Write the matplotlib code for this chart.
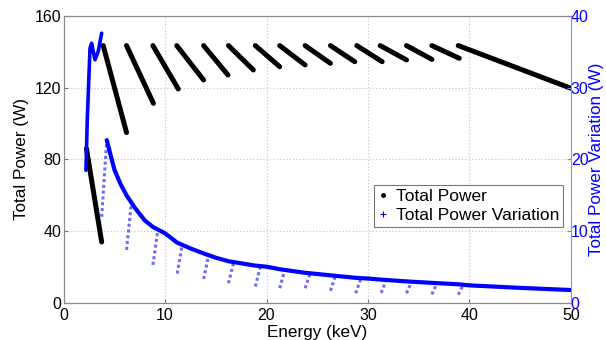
import matplotlib
matplotlib.use("Agg")
import matplotlib.pyplot as plt
from matplotlib.lines import Line2D

plt.rcParams['font.family'] = ['Liberation Sans', 'DejaVu Sans']

# ---------------- data ----------------
# Total Power (left axis): piecewise segments between absorption-edge steps
tp_start_x = [2.25, 3.9, 6.2, 8.8, 11.15, 13.8, 16.25, 18.9, 21.3, 23.8, 26.3, 28.9, 31.2, 33.8, 36.3, 38.9]
tp_end_x   = [3.75, 6.2, 8.85, 11.3, 13.8, 16.2, 18.7, 21.3, 23.8, 26.3, 28.7, 31.4, 33.8, 36.3, 39.0, 50.0]
tp_start_y = [86, 143.5, 143.5, 143.5, 143.5, 143.5, 143.5, 143.5, 143.5, 143.5, 143.5, 143.5, 143.5, 143.5, 143.5, 143.5]
tp_end_y   = [34, 95, 111.3, 119.3, 124.3, 127.1, 129.9, 131.7, 132.7, 133.6, 134.5, 134.5, 135.5, 135.8, 136.4, 119.7]

# Total Power Variation (right axis)
tpv_low_x = [2.2, 2.33, 2.6, 2.76, 3.09, 3.4, 3.75]
tpv_low_y = [18.5, 25.5, 35.5, 36.2, 33.9, 35.0, 37.6]
tpv_x = [4.25, 5.0, 5.6, 6.2, 7.0, 8.0, 8.8, 10.0, 11.2, 12.5, 13.8, 15.0, 16.3,
         18.9, 20.0, 21.3, 23.8, 26.3, 28.8, 30.0, 31.3, 33.8, 36.3, 38.9, 40.0, 45.0, 50.0]
tpv_y = [22.7, 18.6, 16.6, 15.0, 13.3, 11.5, 10.6, 9.7, 8.4, 7.6, 6.9, 6.3, 5.8,
         5.2, 5.05, 4.7, 4.2, 3.85, 3.5, 3.4, 3.25, 3.0, 2.8, 2.6, 2.45, 2.1, 1.8]
dip_x      = [3.75, 6.2, 8.8, 11.2, 13.8, 16.25, 18.9, 21.3, 23.8, 26.3, 28.8, 31.3, 33.8, 36.3, 38.9]
dip_bottom = [12.0, 7.4, 5.3, 4.1, 3.35, 2.75, 2.3, 2.05, 2.05, 1.7, 1.35, 1.4, 1.35, 1.2, 1.15]
dip_top    = [22.7, 14.3, 10.3, 8.2, 6.7, 5.6, 5.1, 4.6, 4.1, 3.8, 3.45, 3.2, 2.95, 2.75, 2.55]
dip_width = 0.5

x_ticks = [0, 10, 20, 30, 40, 50]
yl_ticks = [0, 40, 80, 120, 160]
yr_ticks = [0, 10, 20, 30, 40]

# ---------------- figure ----------------
fig = plt.figure(figsize=(6.06, 3.40), dpi=100)
ax = fig.add_axes([0.105, 0.109, 0.837, 0.844])
ax2 = ax.twinx()

for xs, xe, ys, ye in zip(tp_start_x, tp_end_x, tp_start_y, tp_end_y):
    ax.plot([xs, xe], [ys, ye], color='black', lw=3.6, solid_capstyle='round', zorder=3)

blue = '#0000ff'
ax2.plot(tpv_low_x, tpv_low_y, color=blue, lw=2.6, solid_capstyle='round', zorder=3)
ax2.plot(tpv_x, tpv_y, color=blue, lw=3.0, solid_capstyle='round', zorder=3)
for dx, b, t in zip(dip_x, dip_bottom, dip_top):
    ax2.plot([dx, dx + dip_width], [b, t], color='#3a3aff', lw=2.2,
             linestyle=(0, (1.0, 0.9)), alpha=0.75, zorder=2)

# axes limits & ticks
ax.set_xlim(0, 50)
ax.set_ylim(0, 160)
ax2.set_ylim(0, 40)
ax.set_xticks(x_ticks)
ax.set_yticks(yl_ticks)
ax2.set_yticks(yr_ticks)

ax.grid(True, color='#c8c8c8', linestyle=':', lw=0.9)
ax.set_axisbelow(True)

ax.tick_params(axis='both', direction='in', length=3, labelsize=11.5, pad=1.5, color='#777777')
ax.tick_params(axis='x', pad=4)
ax2.tick_params(axis='y', direction='in', length=3, labelsize=11.5, pad=0,
                colors=blue)
ax2.tick_params(axis='y', color='#8080ff')

for s in ['left', 'bottom', 'top']:
    ax.spines[s].set_color('#8a8a8a')
    ax2.spines[s].set_color('#8a8a8a')
ax.spines['right'].set_visible(False)
ax2.spines['right'].set_color('#8c8cff')

ax.set_xlabel('Energy (keV)', fontsize=12.3)
ax.xaxis.set_label_coords(0.5, -0.077)
ax.set_ylabel('Total Power (W)', fontsize=12.3)
ax.yaxis.set_label_coords(-0.068, 0.5)
ax2.set_ylabel('Total Power Variation (W)', fontsize=12.3, color=blue)
ax2.yaxis.set_label_coords(1.036, 0.5)

handles = [Line2D([], [], color='black', marker='.', linestyle='none', markersize=5),
           Line2D([], [], color=blue, marker='+', linestyle='none', markersize=5, mew=0.8)]
leg = ax2.legend(handles, ['Total Power', 'Total Power Variation'], loc='upper right',
                 bbox_to_anchor=(0.985, 0.411), fontsize=12.5, frameon=True, fancybox=False,
                 handlelength=0.6, handletextpad=0.4, borderpad=0.25, labelspacing=0.2,
                 borderaxespad=0)
leg.get_frame().set_edgecolor('#555555')
leg.get_frame().set_linewidth(0.8)

fig.savefig('out.png', dpi=100)
